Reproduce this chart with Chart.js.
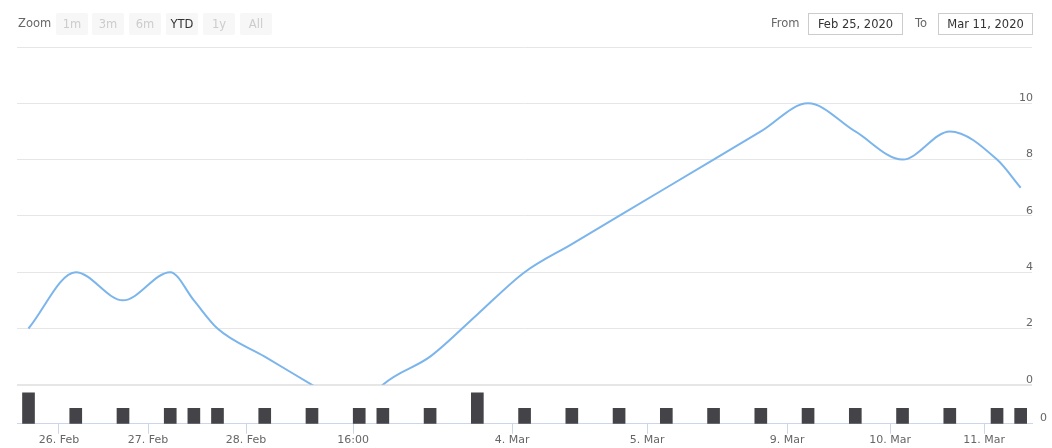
<!DOCTYPE html>
<html>
<head>
<meta charset="utf-8">
<script src="https://cdn.jsdelivr.net/npm/chart.js@4/dist/chart.umd.min.js"></script>
<style>
    html, body {
        margin: 0;
        padding: 0;
        background: #ffffff;
        font-family: 'DejaVu Sans', sans-serif;
    }
    #wrap {
        position: relative;
        width: 1052px;
        height: 448px;
        overflow: hidden;
    }
    #stockChart {
        position: absolute;
        left: 0;
        top: 0;
    }
    .zoom-label {
        position: absolute;
        left: 18px;
        top: 16px;
        font-size: 11.5px;
        color: #666666;
    }
    .range-btn {
        position: absolute;
        top: 13px;
        width: 32px;
        height: 22px;
        line-height: 22px;
        text-align: center;
        background: #f7f7f7;
        border-radius: 2px;
        font-size: 11.5px;
        color: #cccccc;
    }
    .range-btn.on {
        color: #333333;
    }
    .input-label {
        position: absolute;
        top: 16px;
        font-size: 11.5px;
        color: #666666;
    }
    .date-box {
        position: absolute;
        top: 13px;
        width: 93px;
        height: 20px;
        line-height: 20px;
        border: 1px solid #cccccc;
        text-align: center;
        font-size: 11.5px;
        color: #333333;
    }
</style>
</head>
<body>
<div id="wrap">
    <canvas id="stockChart" width="1052" height="448"></canvas>
    <div class="zoom-label">Zoom</div>
    <div class="range-btn" style="left:56px">1m</div>
    <div class="range-btn" style="left:92px">3m</div>
    <div class="range-btn" style="left:129px">6m</div>
    <div class="range-btn on" style="left:166px">YTD</div>
    <div class="range-btn" style="left:203px">1y</div>
    <div class="range-btn" style="left:240px">All</div>
    <div class="input-label" style="left:771px">From</div>
    <div class="date-box" style="left:808px">Feb 25, 2020</div>
    <div class="input-label" style="left:915px">To</div>
    <div class="date-box" style="left:938px">Mar 11, 2020</div>
</div>
<script>
// ordinal positions of the points (the axis skips empty time)
const pointIndex = [0, 2, 4, 6, 7, 8, 10, 12, 14, 15, 17, 19, 21, 23, 25, 27, 29, 31, 33, 35, 37, 39, 41, 42];
const lineValues = [2, 4, 3, 4, 3, 2, 1, 0, -1, 0, 1, 2.5, 4, 5, 6, 7, 8, 9, 10, 9, 8, 9, 8, 7];
const volumeValues = [2, 1, 1, 1, 1, 1, 1, 1, 1, 1, 1, 2, 1, 1, 1, 1, 1, 1, 1, 1, 1, 1, 1, 1];

const xTickPos = [1.29, 5.06, 9.21, 13.74, 20.47, 26.19, 32.11, 36.47, 40.45];
const xTickLabels = ['26. Feb', '27. Feb', '28. Feb', '16:00', '4. Mar', '5. Mar', '9. Mar', '10. Mar', '11. Mar'];

const yTicks = [0, 2, 4, 6, 8, 10, 12];
const yTickLabels = ['0', '2', '4', '6', '8', '10', ''];
const volumeTicks = [0];

Chart.defaults.font.family = "'DejaVu Sans', sans-serif";
Chart.defaults.font.size = 11;
Chart.defaults.color = '#666666';

const linePoints = pointIndex.map((x, i) => ({ x: x, y: lineValues[i] }));
const volumePoints = pointIndex.map((x, i) => ({ x: x, y: volumeValues[i] }));

const config = {
    type: 'bar',
    data: {
        datasets: [{
            type: 'line',
            data: linePoints,
            yAxisID: 'y',
            borderColor: '#7cb5ec',
            borderWidth: 2,
            pointRadius: 0,
            fill: false,
            cubicInterpolationMode: 'monotone',
            clip: { left: 0, top: 0, right: 0, bottom: 0 },
            order: 0
        }, {
            type: 'bar',
            data: volumePoints,
            yAxisID: 'y2',
            backgroundColor: '#434348',
            barThickness: 12,
            grouped: false,
            order: 1
        }]
    },
    options: {
        responsive: false,
        animation: false,
        layout: {
            padding: { left: 17, top: 47, right: -3, bottom: 1 }
        },
        plugins: {
            legend: { display: false },
            tooltip: { enabled: false }
        },
        scales: {
            x: {
                type: 'linear',
                min: -0.487,
                max: 42.48,
                offset: false,
                afterBuildTicks: (scale) => {
                    scale.ticks = xTickPos.map(v => ({ value: v }));
                },
                ticks: {
                    padding: 0,
                    maxRotation: 0,
                    autoSkip: false,
                    callback: (value, index) => xTickLabels[index]
                },
                grid: {
                    offset: false,
                    drawOnChartArea: false,
                    drawTicks: true,
                    tickLength: 10,
                    color: '#ccd6eb'
                },
                border: { display: true, color: '#ccd6eb' }
            },
            y: {
                type: 'linear',
                position: 'right',
                stack: 'pane',
                stackWeight: 338,
                min: 0,
                max: 12,
                afterBuildTicks: (scale) => {
                    scale.ticks = yTicks.map(v => ({ value: v }));
                },
                ticks: {
                    mirror: true,
                    padding: 1,
                    labelOffset: -5,
                    callback: (value, index) => yTickLabels[index]
                },
                grid: {
                    color: '#e6e6e6',
                    lineWidth: (c) => (c.tick && c.tick.value === 0 ? 2 : 1),
                    drawTicks: false
                },
                border: { display: false }
            },
            y2: {
                type: 'linear',
                position: 'right',
                stack: 'pane',
                stackWeight: 39,
                min: 0,
                max: 2.52,
                afterBuildTicks: (scale) => {
                    scale.ticks = volumeTicks.map(v => ({ value: v }));
                },
                ticks: {
                    padding: 8,
                    labelOffset: -6
                },
                grid: { display: false, drawTicks: false },
                border: { display: false }
            }
        }
    }
};

const ctx = document.getElementById('stockChart').getContext('2d');
const chart = new Chart(ctx, config);
</script>
</body>
</html>
